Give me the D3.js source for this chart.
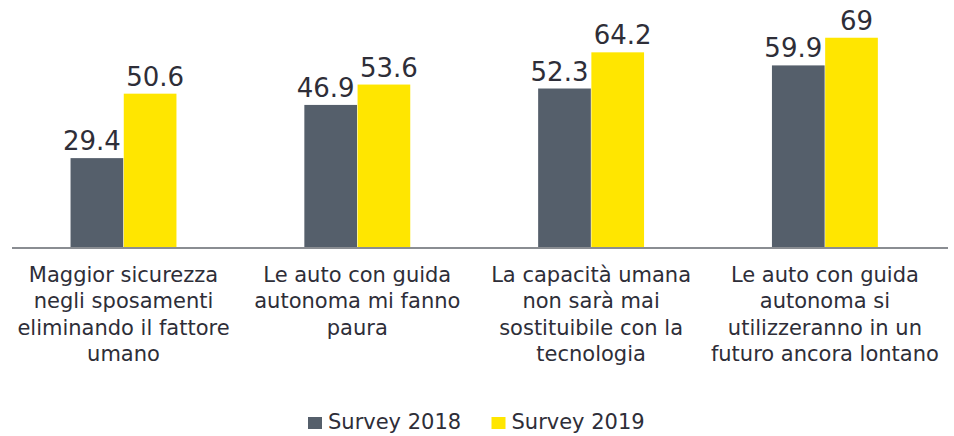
<!DOCTYPE html>
<html>
<head>
<meta charset="utf-8">
<script src="https://cdn.jsdelivr.net/npm/d3@7"></script>
<style>
  html, body { margin: 0; padding: 0; background: #fff; }
  svg { display: block; }
  text { font-family: "DejaVu Sans", sans-serif; fill: #2e2e38; }
</style>
</head>
<body>
<svg id="chart" width="954" height="436"></svg>
<script>
// ---- data ----
const categories = [
  ["Maggior sicurezza", "negli sposamenti", "eliminando il fattore", "umano"],
  ["Le auto con guida", "autonoma mi fanno", "paura"],
  ["La capacità umana", "non sarà mai", "sostituibile con la", "tecnologia"],
  ["Le auto con guida", "autonoma si", "utilizzeranno in un", "futuro ancora lontano"]
];
const seriesNames = ["Survey 2018", "Survey 2019"];
const values2018 = [29.4, 46.9, 52.3, 59.9];
const values2019 = [50.6, 53.6, 64.2, 69];
const seriesColors = ["#555f6b", "#ffe600"];

// ---- layout ----
const svg = d3.select("#chart");
const baseY = 247.5;
const idx = d3.range(categories.length);

const x0 = d3.scaleBand().domain(idx).range([6.6, 941.8])
  .paddingInner(0.547).paddingOuter(0.2735);
const x1 = d3.scaleBand().domain(seriesNames).range([0, x0.bandwidth()]).paddingInner(0.01);
const y = d3.scaleLinear().domain([0, 100]).range([baseY, baseY - 304]);

const seriesValues = [values2018, values2019];

const groups = svg.append("g").selectAll("g").data(idx).join("g")
  .attr("transform", i => `translate(${x0(i)},0)`);

seriesNames.forEach((s, si) => {
  groups.append("rect")
    .attr("x", x1(s))
    .attr("y", i => y(seriesValues[si][i]))
    .attr("width", x1.bandwidth())
    .attr("height", i => y(0) - y(seriesValues[si][i]))
    .attr("fill", seriesColors[si]);
  groups.append("text")
    .attr("x", x1(s) + x1.bandwidth() / 2 + (si === 0 ? -5 : 5))
    .attr("y", i => y(seriesValues[si][i]) - 8)
    .attr("text-anchor", "middle")
    .style("font-size", "26px")
    .text(i => String(seriesValues[si][i]));
});

// baseline axis
svg.append("line")
  .attr("x1", 12).attr("x2", 948)
  .attr("y1", baseY + 0.5).attr("y2", baseY + 0.5)
  .attr("stroke", "#8a8d92").attr("stroke-width", 2);

// category labels
const catG = svg.append("g");
idx.forEach(i => {
  const t = catG.append("text")
    .attr("text-anchor", "middle")
    .style("font-size", "21px");
  categories[i].forEach((line, li) => {
    t.append("tspan").attr("y", 282 + li * 26.3).text(line);
  });
  const cx = x0(i) + x0.bandwidth() / 2;
  t.selectAll("tspan").attr("x", cx);
  const bb = t.node().getBBox();
  let shift = 0;
  if (bb.x < 12) shift = 12 - bb.x;
  if (bb.x + bb.width > 942) shift = 942 - (bb.x + bb.width);
  t.selectAll("tspan").attr("x", cx + shift);
});

// legend
const legendX = [308, 491.5];
seriesNames.forEach((s, si) => {
  svg.append("rect")
    .attr("x", legendX[si]).attr("y", 417)
    .attr("width", 14).attr("height", 12)
    .attr("fill", seriesColors[si]);
  svg.append("text")
    .attr("x", legendX[si] + 20).attr("y", 429)
    .style("font-size", "21px")
    .text(s);
});
</script>
</body>
</html>
